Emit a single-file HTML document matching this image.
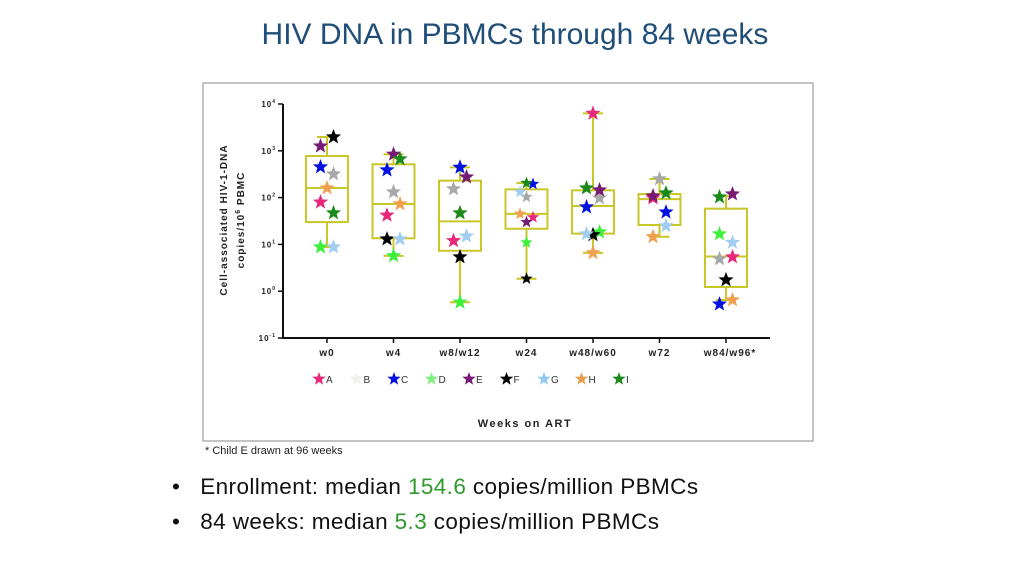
<!DOCTYPE html>
<html><head><meta charset="utf-8"><style>
body{margin:0;width:1024px;height:576px;background:#fff;position:relative;font-family:"Liberation Sans",sans-serif;overflow:hidden}
.title{position:absolute;left:0;width:1030px;top:18px;text-align:center;font-size:30px;color:#1f4e79}
.bul{position:absolute;left:172px;font-size:22.5px;color:#111;white-space:nowrap;letter-spacing:0.4px}
.bul span.g{color:#2e9a2e}
</style></head><body>
<div class="title">HIV DNA in PBMCs through 84 weeks</div>
<svg id="chart" width="1024" height="576" style="position:absolute;left:0;top:0">
<rect x="203" y="83" width="610" height="358" fill="none" stroke="#888" stroke-width="1"/>
<text x="205" y="454" font-size="11" fill="#222" font-family="Liberation Sans">* Child E drawn at 96 weeks</text>
<text x="525" y="427" font-size="11" font-weight="bold" letter-spacing="1.5" text-anchor="middle" fill="#222" font-family="Liberation Sans">Weeks on ART</text>
<text transform="translate(227,220) rotate(-90)" font-size="10" font-weight="bold" letter-spacing="1" text-anchor="middle" fill="#222" font-family="Liberation Sans">Cell-associated HIV-1-DNA</text>
<text transform="translate(244,220) rotate(-90)" font-size="10" font-weight="bold" letter-spacing="1" text-anchor="middle" fill="#222" font-family="Liberation Sans">copies/10<tspan font-size="7" dy="-4">6</tspan><tspan dy="4"> PBMC</tspan></text>
</svg>
<div class="bul" style="top:474px">•&nbsp;&nbsp;&nbsp;Enrollment: median <span class="g">154.6</span> copies/million PBMCs</div>
<div class="bul" style="top:509px">•&nbsp;&nbsp;&nbsp;84 weeks: median <span class="g">5.3</span> copies/million PBMCs</div>
<script>
const categories=["w0","w4","w8/w12","w24","w48/w60","w72","w84/w96*"];
const yTicks=[-1,0,1,2,3,4];
const legendLetters=["A","B","C","D","E","F","G","H","I"];
const boxMin=[8.8,5.7,0.58,1.85,6.6,14.6,0.65];
const boxQ1=[30,13.5,7.3,21.6,17,26,1.23];
const boxMedian=[160,73,31,45,66,93,5.5];
const boxQ3=[774,515,230,150,143,119,58];
const boxMax=[1970,841,443,205,6300,250,108];
const childA=[80,42,12,38,6300,98,5.4];
const childB=[319,132,153,103,98,250,4.9];
const childC=[451,389,443,195,63,49,0.53];
const childD=[8.8,5.7,0.58,11,18.4,null,16.7];
const childE=[1260,841,275,30,145,108,119];
const childF=[1970,13,5.4,1.85,16,null,1.74];
const childG=[8.8,13,15,132,16.7,25,11];
const childH=[160,73,47,45,6.6,14.6,0.65];
const childI=[47,668,47,205,160,125,103];
const sideA=[-1,-1,-1,1,0,-1,1], sideB=[1,0,-1,0,1,0,-1], sideC=[-1,-1,0,1,-1,1,-1];
const sideD=[-1,0,0,0,1,0,-1], sideE=[-1,0,1,0,1,-1,1], sideF=[1,-1,0,0,0,0,0];
const sideG=[1,1,1,-1,-1,1,1], sideH=[0,1,0,-1,0,-1,1], sideI=[1,1,0,0,-1,1,-1];
const colors=["#e8287a","#a8a8a8","#0010e0","#3cf03c","#761a76","#000","#a0cdf0","#f0a050","#1a8a1a"];
const legendColors=["#e8287a","#f0f0ea","#0010e0","#80f080","#761a76","#000","#90c8f0","#e8a050","#1a8a1a"];
const children=[childA,childB,childC,childD,childE,childF,childG,childH,childI];
const sides=[sideA,sideB,sideC,sideD,sideE,sideF,sideG,sideH,sideI];
const NS="http://www.w3.org/2000/svg",svg=document.getElementById("chart");
const y0=338,y1=104,lmin=-1,lmax=4;
function Y(v){return y0-(Math.log10(v)-lmin)/(lmax-lmin)*(y0-y1);}
function YL(l){return y0-(l-lmin)/(lmax-lmin)*(y0-y1);}
const xl=283,xr=770;
function X(i){return 327+i*66.5;}
function mk(t,a){const e=document.createElementNS(NS,t);for(const k in a)e.setAttribute(k,a[k]);svg.appendChild(e);return e;}
function star(cx,cy,r,fill){let p=[];for(let k=0;k<10;k++){const rr=k%2?r*0.42:r,an=-Math.PI/2+k*Math.PI/5;p.push((cx+rr*Math.cos(an)).toFixed(1)+","+(cy+rr*Math.sin(an)).toFixed(1));}return mk("polygon",{points:p.join(" "),fill:fill});}
let e;
e=mk("line",{x1:xl,y1:y1,x2:xl,y2:y0,stroke:"#111","stroke-width":2});

e=mk("line",{x1:xl-1,y1:y0,x2:xr,y2:y0,stroke:"#111","stroke-width":2});

yTicks.forEach(t=>{const y=YL(t);
e=mk("line",{x1:xl-5,y1:y,x2:xl,y2:y,stroke:"#111","stroke-width":1.5});

e=mk("text",{x:xl-7,y:y+3,"font-size":8,"font-weight":"bold","letter-spacing":"1","text-anchor":"end",fill:"#222","font-family":"Liberation Sans"});
e.innerHTML="10<tspan font-size='5' dy='-4'>"+t+"</tspan>";

});
const bc="#c8c628";
categories.forEach((c,i)=>{const x=X(i);
e=mk("line",{x1:x,y1:y0,x2:x,y2:y0+5,stroke:"#111","stroke-width":1.5});

e=mk("text",{x:x+(i==6?4:0),y:356,"font-size":10,"font-weight":"bold","letter-spacing":"1","text-anchor":"middle",fill:"#222","font-family":"Liberation Sans"});
e.textContent=c;

const w=21;
e=mk("line",{x1:x,y1:Y(boxMax[i]),x2:x,y2:Y(boxQ3[i]),stroke:bc,"stroke-width":2});

e=mk("line",{x1:x,y1:Y(boxQ1[i]),x2:x,y2:Y(boxMin[i]),stroke:bc,"stroke-width":2});

[boxMax[i],boxMin[i]].forEach(v=>{e=mk("line",{x1:x-10,y1:Y(v),x2:x+10,y2:Y(v),stroke:bc,"stroke-width":2});
});
e=mk("rect",{x:x-w,y:Y(boxQ3[i]),width:2*w,height:Y(boxQ1[i])-Y(boxQ3[i]),fill:"none",stroke:bc,"stroke-width":2});

e=mk("line",{x1:x-w,y1:Y(boxMedian[i]),x2:x+w,y2:Y(boxMedian[i]),stroke:bc,"stroke-width":2});

});
categories.forEach((c,i)=>{children.forEach((arr,j)=>{const v=arr[i];if(v==null)return;
e=star(X(i)+sides[j][i]*6.5,Y(v),i==3?6.5:8,colors[j]);
});});
legendLetters.forEach((l,j)=>{const x=319+j*37.5;
e=star(x,379,7,legendColors[j]);

e=mk("text",{x:x+7,y:383,"font-size":10,fill:"#333","font-family":"Liberation Sans"});e.textContent=l;
});
</script>
</body></html>
